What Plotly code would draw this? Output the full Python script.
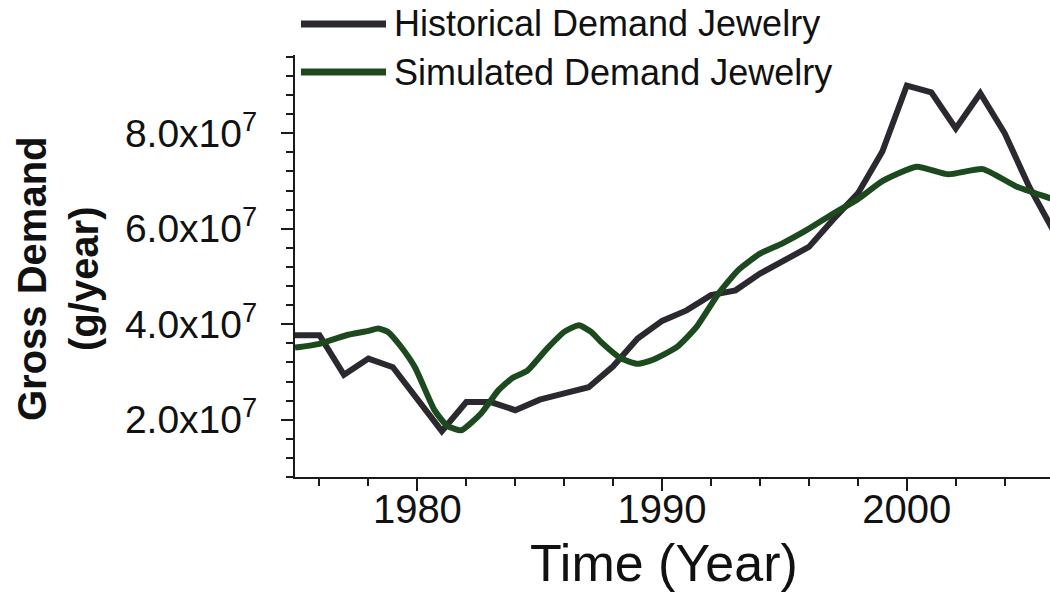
import plotly.graph_objects as go

# ---- data (values in units of g/year) ----
hist_years = [1975, 1976, 1977, 1978, 1979, 1980, 1981, 1982, 1983, 1984, 1985,
              1986, 1987, 1988, 1989, 1990, 1991, 1992, 1993, 1994, 1995, 1996,
              1997, 1998, 1999, 2000, 2001, 2002, 2003, 2004, 2005, 2006]
hist_demand_e7 = [3.77, 3.77, 2.94, 3.28, 3.10, 2.45, 1.76, 2.37, 2.37, 2.20, 2.42,
                  2.55, 2.68, 3.12, 3.70, 4.07, 4.29, 4.61, 4.71, 5.06, 5.33, 5.62,
                  6.20, 6.74, 7.62, 9.00, 8.86, 8.10, 8.84, 8.00, 6.88, 5.95]

sim_years = [1975.0, 1976.0, 1977.1, 1978.0, 1978.4, 1978.8, 1979.3, 1979.9, 1980.7,
             1981.2, 1981.8, 1982.6, 1983.3, 1983.9, 1984.5, 1985.3, 1986.0, 1986.6,
             1987.1, 1987.5, 1988.3, 1989.0, 1989.6, 1990.6, 1991.4, 1992.3, 1993.1,
             1994.0, 1994.9, 1995.9, 1997.0, 1998.0, 1999.0, 2000.4, 2001.7, 2003.1,
             2004.5, 2005.85, 2006.5]
sim_demand_e7 = [3.51, 3.59, 3.77, 3.86, 3.91, 3.84, 3.55, 3.10, 2.20,
                 1.88, 1.78, 2.13, 2.61, 2.88, 3.03, 3.49, 3.84, 3.98,
                 3.84, 3.63, 3.29, 3.17, 3.25, 3.52, 3.94, 4.64, 5.13,
                 5.48, 5.69, 5.97, 6.32, 6.62, 7.00, 7.30, 7.14, 7.25,
                 6.88, 6.64, 6.52]

x_tick_vals = [1980, 1990, 2000]
y_tick_vals_e7 = [2, 4, 6, 8]
y_tick_text = ["2.0x10<sup>7</sup>", "4.0x10<sup>7</sup>", "6.0x10<sup>7</sup>", "8.0x10<sup>7</sup>"]

series_names = ["Historical Demand Jewelry", "Simulated Demand Jewelry"]
series_colors = ["#2c2830", "#1c4a1e"]

SCALE = 1e7
hist_demand = [v * SCALE for v in hist_demand_e7]
sim_demand = [v * SCALE for v in sim_demand_e7]
y_tick_vals = [v * SCALE for v in y_tick_vals_e7]

FONT = "Liberation Sans, Arial, sans-serif"

fig = go.Figure()
fig.add_trace(go.Scatter(x=hist_years, y=hist_demand, mode="lines",
                         name=series_names[0],
                         line=dict(color=series_colors[0], width=6)))
fig.add_trace(go.Scatter(x=sim_years, y=sim_demand, mode="lines",
                         name=series_names[1],
                         line=dict(color=series_colors[1], width=6, shape="spline", smoothing=0.5)))

axis_common = dict(showgrid=False, zeroline=False, showline=True, linecolor="#1a1a1a",
                   linewidth=2, ticks="outside", ticklen=12, tickwidth=2,
                   tickcolor="#1a1a1a", mirror=False)

fig.update_xaxes(range=[1975, 2005.85], tickvals=x_tick_vals,
                 tickfont=dict(family=FONT, size=40, color="#111"),
                 minor=dict(dtick=2, tick0=1974, ticks="outside", ticklen=7,
                            tickwidth=2, tickcolor="#1a1a1a"),
                 ticklabelstandoff=-16,
                 **axis_common)
fig.update_yaxes(range=[0.8e7, 9.64e7], tickvals=y_tick_vals, ticktext=y_tick_text,
                 tickfont=dict(family=FONT, size=39, color="#111"),
                 minor=dict(dtick=0.4e7, tick0=0, ticks="outside", ticklen=7,
                            tickwidth=2, tickcolor="#1a1a1a"),
                 ticklabelstandoff=16,
                 **axis_common)

L, R, T, B = 295, 0, 55, 115
W, H = 1050, 592
pw, ph = W - L - R, H - T - B

def px_x(px):
    return (px - L) / pw

def px_y(py):
    return (H - B - py) / ph

annotations = [
    dict(text="Gross Demand<br>(g/year)", textangle=-90, x=px_x(58), y=px_y(278),
         xref="paper", yref="paper", showarrow=False, xanchor="center", yanchor="middle",
         font=dict(family=FONT, size=40, color="#111", weight="bold")),
    dict(text="Time (Year)", x=px_x(664), y=px_y(563), xref="paper", yref="paper",
         showarrow=False, xanchor="center", yanchor="middle",
         font=dict(family=FONT, size=52, color="#111")),
]
shapes = []
legend_rows_y = [24, 72]
for name, color, ry in zip(series_names, series_colors, legend_rows_y):
    shapes.append(dict(type="line", xref="paper", yref="paper",
                       x0=px_x(301), x1=px_x(386), y0=px_y(ry), y1=px_y(ry),
                       line=dict(color=color, width=7)))
    annotations.append(dict(text=name, x=px_x(392), y=px_y(ry), xref="paper", yref="paper",
                            showarrow=False, xanchor="left", yanchor="middle",
                            font=dict(family=FONT, size=36, color="#111")))

fig.update_layout(width=W, height=H, margin=dict(l=L, r=R, t=T, b=B, pad=0),
                  paper_bgcolor="white", plot_bgcolor="white", showlegend=False,
                  annotations=annotations, shapes=shapes)

fig.write_html("out.html", config={"displayModeBar": False},
               post_script="document.body.style.margin='0';document.body.style.overflow='hidden';")
